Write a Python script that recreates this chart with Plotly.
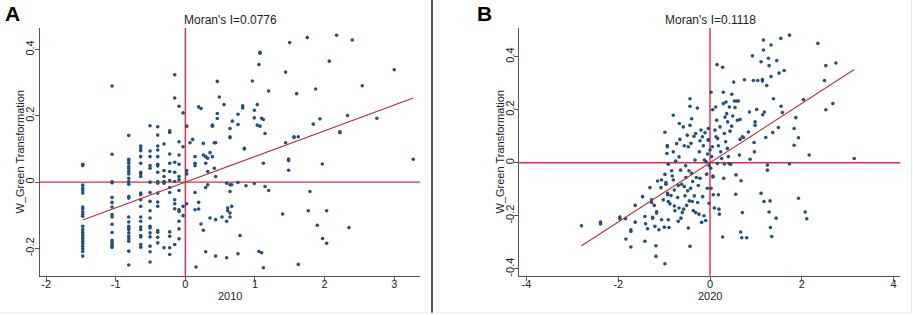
import plotly.graph_objects as go

# ---------------- data ----------------
morans_i_2010 = 0.0776
morans_i_2020 = 0.1118

x_2010 = [
    -1.474, -1.474, -1.474, -1.474, -1.474, -1.474, -1.474, -1.474,
    -1.474, -1.474, -1.474, -1.474, -1.474, -1.474, -1.474, -1.474,
    -1.474, -1.474, -1.474, -1.474, -1.474, -1.474, -1.474,
    -1.053, -1.053, -1.053, -1.053, -1.053, -1.053, -1.053, -1.053,
    -1.053, -1.053, -1.053, -1.053, -1.053, -1.053, -1.053, -1.053,
    -0.813, -0.813, -0.813, -0.813, -0.813, -0.813, -0.813, -0.813,
    -0.813, -0.813, -0.813, -0.813, -0.813, -0.813, -0.813, -0.813,
    -0.813, -0.813, -0.813, -0.813, -0.813, -0.813, -0.813, -0.813,
    -0.641, -0.641, -0.641, -0.641, -0.641, -0.641, -0.641, -0.641,
    -0.641, -0.641, -0.641, -0.641, -0.641, -0.641, -0.641, -0.641,
    -0.641, -0.641, -0.641, -0.641,
    -0.507, -0.507, -0.507, -0.507, -0.507, -0.507, -0.507, -0.507,
    -0.507, -0.507, -0.507, -0.507, -0.507, -0.507, -0.507, -0.507,
    -0.507,
    -0.397, -0.397, -0.397, -0.397, -0.397, -0.397, -0.397, -0.397,
    -0.397, -0.397, -0.397, -0.397, -0.397, -0.397, -0.397, -0.397,
    -0.397,
    -0.306, -0.306, -0.306, -0.306, -0.306, -0.306,
    -0.225, -0.225, -0.225, -0.225, -0.225, -0.225, -0.225, -0.225,
    -0.225, -0.225, -0.225, -0.225,
    -0.153, -0.153, -0.153, -0.153, -0.153, -0.153, -0.153, -0.153, -0.153,
    -0.091, -0.091, -0.091, -0.091, -0.091, -0.091, -0.091, -0.091,
    -0.091, -0.091, -0.091, -0.091,
    -0.033, -0.033, -0.033, -0.033,
    0.019, 0.019, 0.019, 0.019,
    0.067, 0.105, 0.139, 0.139, 0.139, 0.139, 0.139, 0.153, 0.191, 0.191,
    0.191, 0.225, 0.225, 0.258, 0.258, 0.258, 0.292, 0.292, 0.292, 0.292,
    0.321, 0.321, 0.321, 0.354, 0.354, 0.388, 0.388, 0.388, 0.416, 0.416,
    0.435, 0.435, 0.435, 0.435, 0.459, 0.459, 0.459, 0.488, 0.526, 0.555,
    0.593, 0.593, 0.593, 0.608, 0.608, 0.641, 0.641, 0.641, 0.641, 0.641,
    0.641, 0.641, 0.665, 0.665, 0.675, 0.756, 0.756, 0.756, 0.756, 0.785,
    0.823, 0.823, 0.847, 0.847, 0.871, 0.962, 0.990, 0.990, 0.990, 1.033,
    1.033, 1.057, 1.057, 1.072, 1.072, 1.072, 1.096, 1.096, 1.120, 1.120,
    1.120, 1.144, 1.144, 1.196, 1.196, 1.397, 1.440, 1.440, 1.483, 1.483,
    1.483, 1.498, 1.560, 1.560, 1.598, 1.622, 1.622, 1.751, 1.766, 1.789,
    1.837, 1.871, 1.895, 1.933, 1.967, 1.971, 2.029, 2.029, 2.067, 2.172,
    2.220, 2.220, 2.330, 2.349, 2.397, 2.541, 2.751, 3.000, 3.273,
]
y_2010 = [
    0.054, 0.050, -0.009, -0.018, -0.025, -0.033, -0.075, -0.080,
    -0.089, -0.097, -0.103, -0.133, -0.143, -0.151, -0.158, -0.165,
    -0.171, -0.178, -0.185, -0.193, -0.201, -0.209, -0.223,
    0.290, 0.084, 0.001, -0.002, -0.046, -0.061, -0.075, -0.098,
    -0.105, -0.127, -0.152, -0.175, -0.182, -0.188, -0.193, -0.197,
    0.141, 0.069, 0.064, 0.057, 0.047, 0.040, 0.032, 0.025,
    0.012, 0.002, -0.006, -0.043, -0.048, -0.105, -0.120, -0.133,
    -0.138, -0.143, -0.153, -0.163, -0.171, -0.178, -0.208, -0.250,
    0.109, 0.103, 0.095, 0.077, 0.057, 0.030, 0.025, 0.017,
    -0.033, -0.038, -0.053, -0.073, -0.105, -0.118, -0.135, -0.143,
    -0.161, -0.165, -0.188, -0.196,
    0.170, 0.094, 0.077, 0.050, 0.042, 0.000, -0.031, -0.058,
    -0.086, -0.108, -0.133, -0.138, -0.153, -0.165, -0.193, -0.210,
    -0.241,
    0.167, 0.142, 0.109, 0.097, 0.077, 0.054, 0.049, 0.030,
    0.002, -0.003, -0.033, -0.060, -0.073, -0.146, -0.151, -0.166,
    -0.183,
    0.115, 0.035, 0.017, 0.002, -0.003, -0.198,
    0.155, 0.150, 0.085, 0.057, 0.032, 0.005, -0.016, -0.031,
    -0.150, -0.163, -0.198, -0.218,
    0.324, 0.254, 0.060, 0.030, 0.002, -0.053, -0.065, -0.080, -0.188,
    0.229, 0.122, 0.082, 0.054, 0.017, 0.007, -0.025, -0.083,
    -0.088, -0.118, -0.141, -0.171,
    0.209, 0.107, -0.073, -0.101,
    0.169, 0.035, 0.025, -0.065,
    0.119, 0.129, 0.077, 0.057, 0.050, -0.031, -0.083, -0.256, 0.227, -0.061,
    -0.081, 0.222, -0.126, 0.117, 0.082, -0.145, 0.077, 0.057, -0.016, -0.210,
    0.072, -0.008, 0.032, 0.089, -0.108, 0.172, 0.169, 0.077, 0.042, 0.119,
    0.119, 0.017, -0.113, -0.223, 0.304, 0.207, 0.192, 0.257, -0.105, 0.234,
    -0.003, -0.118, -0.228, -0.078, -0.086, 0.162, 0.137, 0.134, -0.008, -0.028,
    -0.093, -0.105, -0.073, -0.008, 0.184, 0.205, 0.174, -0.001, -0.216, -0.161,
    0.230, 0.224, 0.102, 0.100, -0.011, 0.305, 0.194, 0.217, -0.004, 0.234,
    0.172, 0.355, -0.209, 0.392, 0.389, 0.169, 0.193, -0.213, -0.258, 0.189,
    0.057, 0.147, -0.013, 0.275, -0.025, -0.096, 0.332, 0.119, 0.070, 0.065,
    0.036, 0.421, 0.137, 0.135, 0.267, 0.137, -0.248, 0.436, -0.086, -0.028,
    0.175, 0.281, -0.130, 0.191, 0.055, -0.170, -0.086, -0.184, 0.365, 0.443,
    0.152, 0.149, 0.201, -0.137, 0.429, 0.291, 0.193, 0.339, 0.069,
]

x_2020 = [
    -2.800, -2.385, -2.385, -1.964, -1.964, -1.840, -1.833, -1.724, -1.724, -1.724,
    -1.629, -1.629, -1.469, -1.418, -1.404, -1.418, -1.360, -1.309, -1.273, -1.273,
    -1.251, -1.251, -1.215, -1.200, -1.178, -1.178, -1.164, -1.164, -1.142, -1.113,
    -1.069, -1.055, -1.055, -1.018, -0.996, -0.982, -0.982, -0.982, -0.960, -0.960,
    -0.938, -0.931, -0.931, -0.924, -0.924, -0.909, -0.909, -0.909, -0.895, -0.873,
    -0.851, -0.836, -0.822, -0.800, -0.800, -0.800, -0.778, -0.778, -0.764, -0.749,
    -0.727, -0.705, -0.691, -0.691, -0.676, -0.676, -0.669, -0.655, -0.640, -0.633,
    -0.618, -0.604, -0.582, -0.575, -0.560, -0.560, -0.545, -0.531, -0.524, -0.509,
    -0.495, -0.487, -0.473, -0.473, -0.458, -0.451, -0.436, -0.436, -0.436, -0.436,
    -0.422, -0.415, -0.400, -0.400, -0.386, -0.378, -0.364, -0.349, -0.342, -0.327,
    -0.313, -0.313, -0.298, -0.276, -0.269, -0.255, -0.240, -0.233, -0.218, -0.218,
    -0.196, -0.182, -0.167, -0.160, -0.145, -0.131, -0.124, -0.109, -0.095, -0.087,
    -0.073, -0.058, -0.051, -0.036, -0.036, -0.036, -0.022, -0.015, 0.000, 0.015,
    0.022, 0.022, 0.036, 0.051, 0.058, 0.065, 0.065, 0.073, 0.095, 0.109,
    0.124, 0.131, 0.145, 0.153, 0.160, 0.167, 0.182, 0.182, 0.196, 0.204,
    0.218, 0.233, 0.255, 0.276, 0.276, 0.291, 0.291, 0.298, 0.313, 0.313,
    0.327, 0.342, 0.349, 0.364, 0.378, 0.385, 0.400, 0.415, 0.422, 0.436,
    0.451, 0.473, 0.473, 0.495, 0.516, 0.531, 0.545, 0.560, 0.567, 0.582,
    0.596, 0.618, 0.640, 0.655, 0.655, 0.669, 0.676, 0.691, 0.705, 0.705,
    0.727, 0.749, 0.800, 0.836, 0.858, 0.873, 0.924, 0.945, 0.960, 0.967,
    0.982, 0.982, 1.018, 1.040, 1.113, 1.113, 1.142, 1.142, 1.149, 1.164,
    1.164, 1.178, 1.185, 1.215, 1.236, 1.251, 1.251, 1.273, 1.287, 1.287,
    1.309, 1.316, 1.330, 1.330, 1.345, 1.367, 1.382, 1.440, 1.455, 1.491,
    1.505, 1.542, 1.549, 1.578, 1.615, 1.731, 1.731, 1.833, 1.833, 1.869,
    1.927, 1.927, 2.036, 2.073, 2.109, 2.160, 2.349, 2.495, 2.524, 2.524,
    2.676, 2.742, 3.142,
]
y_2020 = [
    -0.238, -0.224, -0.231, -0.205, -0.211, -0.211, -0.288, -0.253, -0.259, -0.318,
    -0.161, -0.224, -0.128, -0.203, -0.230, -0.296, -0.249, -0.094, -0.140, -0.150,
    -0.209, -0.206, -0.161, -0.240, -0.313, -0.353, -0.185, -0.190, -0.069, -0.253,
    -0.094, -0.065, -0.215, -0.140, -0.243, 0.115, -0.044, -0.381, -0.075, -0.081,
    0.035, 0.065, 0.060, -0.115, -0.121, -0.006, -0.146, -0.215, -0.244, -0.155,
    -0.124, -0.030, -0.050, 0.179, 0.041, -0.065, -0.103, -0.163, -0.181, 0.006,
    0.072, -0.131, -0.221, -0.086, 0.022, -0.171, 0.148, 0.088, -0.028, -0.209,
    -0.081, -0.188, 0.135, -0.175, 0.064, -0.090, -0.125, -0.011, -0.056, -0.161,
    0.104, -0.106, 0.060, -0.246, -0.030, -0.144, 0.241, 0.213, 0.141, -0.315,
    -0.096, 0.073, 0.166, -0.040, -0.146, -0.071, -0.180, 0.100, -0.125, 0.010,
    0.110, -0.188, -0.056, 0.206, -0.150, -0.086, -0.194, 0.041, 0.083, -0.059,
    0.123, -0.225, 0.098, -0.128, 0.064, -0.200, 0.010, 0.113, -0.218, 0.004,
    -0.043, -0.096, 0.033, 0.129, 0.087, 0.085, -0.153, -0.011, 0.048, -0.021,
    0.266, -0.096, 0.023, 0.060, 0.200, -0.050, -0.054, -0.121, -0.171, 0.123,
    0.210, 0.098, 0.160, 0.370, -0.003, 0.091, -0.121, 0.064, -0.175, -0.194,
    0.135, 0.041, 0.016, 0.360, -0.280, 0.266, 0.223, -0.059, 0.110, -0.005,
    0.172, 0.079, 0.229, 0.185, 0.054, 0.154, 0.023, -0.003, 0.210, 0.119,
    -0.006, 0.258, 0.138, 0.176, 0.304, 0.233, 0.208, -0.119, -0.046, 0.233,
    0.160, 0.233, 0.029, 0.163, 0.088, -0.261, -0.068, -0.283, 0.098, -0.188,
    0.095, 0.313, -0.283, 0.116, 0.191, 0.013, 0.403, 0.310, 0.076, 0.041,
    0.154, 0.141, 0.201, 0.310, 0.381, -0.115, 0.314, 0.308, 0.181, 0.463,
    0.425, -0.146, 0.191, 0.095, 0.291, -0.009, -0.028, 0.394, 0.366, -0.186,
    -0.144, -0.244, 0.444, 0.325, -0.278, 0.114, 0.241, -0.209, 0.385, 0.133,
    0.338, 0.469, 0.213, 0.189, 0.348, 0.481, -0.005, 0.129, 0.066, 0.170,
    0.094, -0.134, 0.238, -0.186, -0.211, 0.029, 0.450, 0.310, 0.366, 0.200,
    0.223, 0.376, 0.016,
]

xticks_2010 = [-2, -1, 0, 1, 2, 3]
xticklabels_2010 = ["-2", "-1", "0", "1", "2", "3"]
yticks_2010 = [-0.2, 0, 0.2, 0.4]
yticklabels_2010 = ["-0.2", "0", "0.2", "0.4"]
xticks_2020 = [-4, -2, 0, 2, 4]
xticklabels_2020 = ["-4", "-2", "0", "2", "4"]
yticks_2020 = [-0.4, -0.2, 0, 0.2, 0.4]
yticklabels_2020 = ["-0.4", "-0.2", "0", "0.2", "0.4"]

# ---------------- style ----------------
W, H = 913, 315
FONT = "Liberation Sans, Arial, sans-serif"
DOT = "#24507d"
REF = "#e3264f"
FIT = "#b3303f"
AXIS = "#555555"
TXT = "#222222"


def px_x(p):
    return p / W


def px_y(p):
    return 1 - p / H


fig = go.Figure()

# Panel A
fig.add_trace(go.Scatter(x=x_2010, y=y_2010, mode="markers", xaxis="x", yaxis="y",
                         marker=dict(size=3.6, color=DOT), showlegend=False))
fx = [min(x_2010), max(x_2010)]
fig.add_trace(go.Scatter(x=fx, y=[morans_i_2010 * v for v in fx], mode="lines",
                         xaxis="x", yaxis="y", line=dict(color=FIT, width=1.1),
                         showlegend=False))
# Panel B
fig.add_trace(go.Scatter(x=x_2020, y=y_2020, mode="markers", xaxis="x2", yaxis="y2",
                         marker=dict(size=3.6, color=DOT), showlegend=False))
fx2 = [min(x_2020), max(x_2020)]
fig.add_trace(go.Scatter(x=fx2, y=[morans_i_2020 * v for v in fx2], mode="lines",
                         xaxis="x2", yaxis="y2", line=dict(color=FIT, width=1.1),
                         showlegend=False))

axis_common = dict(showgrid=False, zeroline=False, showline=True, linecolor=AXIS,
                   linewidth=1, ticks="outside", ticklen=4, tickcolor=AXIS,
                   automargin=False,
                   tickfont=dict(family=FONT, size=11, color=TXT), tickmode="array")
xaxis_common = dict(axis_common, ticklabelstandoff=-6)
yaxis_common = dict(axis_common, ticklabelstandoff=-4, tickangle=-90)

fig.update_layout(
    template="none",
    width=W, height=H, autosize=False,
    margin=dict(l=0, r=0, t=0, b=0, pad=0),
    paper_bgcolor="white", plot_bgcolor="white",
    xaxis=dict(domain=[px_x(39.5), px_x(420)], range=[-2.095, 3.37],
               tickvals=xticks_2010, ticktext=xticklabels_2010, anchor="y", **xaxis_common),
    yaxis=dict(domain=[px_y(276), px_y(28)], range=[-0.283, 0.465],
               tickvals=yticks_2010, ticktext=yticklabels_2010,
               anchor="x", **yaxis_common),
    xaxis2=dict(domain=[px_x(519.3), px_x(900.3)], range=[-4.155, 4.146],
                tickvals=xticks_2020, ticktext=xticklabels_2020, anchor="y2", **xaxis_common),
    yaxis2=dict(domain=[px_y(275.7), px_y(28)], range=[-0.426, 0.508],
                tickvals=yticks_2020, ticktext=yticklabels_2020,
                anchor="x2", **yaxis_common),
)

shapes = []
for xr, yr in (("x", "y"), ("x2", "y2")):
    shapes.append(dict(type="line", xref=xr, yref=yr + " domain", x0=0, x1=0, y0=0, y1=1,
                       line=dict(color=REF, width=1.4), layer="below"))
    shapes.append(dict(type="line", xref=xr + " domain", yref=yr, x0=0, x1=1, y0=0, y1=0,
                       line=dict(color=REF, width=1.4), layer="below"))
# separator between panels
shapes.append(dict(type="line", xref="paper", yref="paper", x0=px_x(432), x1=px_x(432),
                   y0=px_y(313), y1=1, line=dict(color="#555555", width=2)))
# faint image borders
shapes.append(dict(type="line", xref="paper", yref="paper", x0=0, x1=px_x(911.5),
                   y0=px_y(313), y1=px_y(313), line=dict(color="#e8e8e8", width=1)))
shapes.append(dict(type="line", xref="paper", yref="paper", x0=px_x(911.5), x1=px_x(911.5),
                   y0=px_y(313), y1=1, line=dict(color="#e8e8e8", width=1)))
fig.update_layout(shapes=shapes)

ann = []


def text(x, y, s, size, angle=0, bold=False):
    ann.append(dict(x=px_x(x), y=px_y(y), xref="paper", yref="paper", text=("<b>%s</b>" % s) if bold else s,
                    showarrow=False, textangle=angle, xanchor="center", yanchor="middle",
                    font=dict(family=FONT, size=size, color="black" if bold else TXT)))


text(230, 19.5, "Moran's I=0.0776", 12)
text(710, 19.5, "Moran's I=0.1118", 12)
text(230, 295.5, "2010", 11)
text(710, 295.5, "2020", 11)
text(19.5, 152, "W_Green Transformation", 11, angle=-90)
text(499.5, 152, "W_Green Transformation", 11, angle=-90)
text(12, 14, "A", 21, bold=True)
text(485, 14, "B", 21, bold=True)
fig.update_layout(annotations=ann)

fig.write_html("out.html", config={"displayModeBar": False},
               post_script="document.body.style.margin='0';document.body.style.overflow='hidden';")
